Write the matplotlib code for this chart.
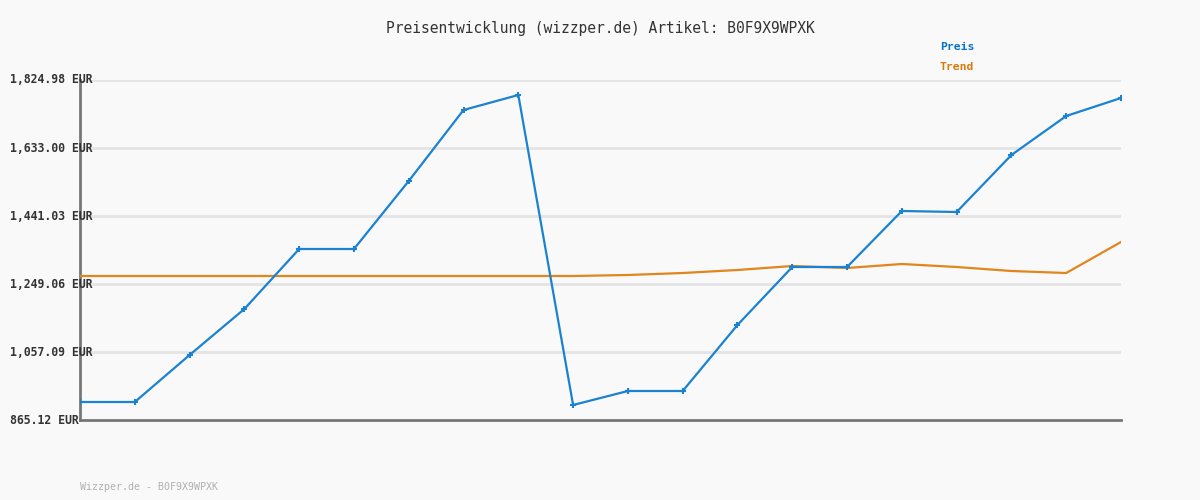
import matplotlib
matplotlib.use("Agg")
import matplotlib.pyplot as plt
import matplotlib.transforms as mtransforms

# price history (EUR)
preis = [915.94, 915.94, 1048.63, 1178.49, 1347.88, 1347.88, 1539.85, 1740.29, 1782.63,
         907.47, 947.00, 947.00, 1133.32, 1297.06, 1297.06, 1455.15, 1452.33, 1613.25,
         1723.35, 1774.16]
trend = [1271.65, 1271.65, 1271.65, 1271.65, 1271.65, 1271.65, 1271.65, 1271.65, 1271.65,
         1271.65, 1274.48, 1280.12, 1288.59, 1299.88, 1294.24, 1305.53, 1297.06, 1285.77,
         1280.12, 1367.64]
y_ticks = [865.12, 1057.09, 1249.06, 1441.03, 1633.00, 1824.98]
tick_labels = ["865.12 EUR", "1,057.09 EUR", "1,249.06 EUR", "1,441.03 EUR", "1,633.00 EUR", "1,824.98 EUR"]

title = "Preisentwicklung (wizzper.de) Artikel: B0F9X9WPXK"
footer = "Wizzper.de - B0F9X9WPXK"

BG = "#f9f9f9"
BLUE = "#1b82d2"
ORANGE = "#e0861c"
MONO = "DejaVu Sans Mono"

fig = plt.figure(figsize=(12, 5), dpi=100, facecolor=BG)
ax = fig.add_axes([80 / 1200, 80 / 500, (1121 - 80) / 1200, 340 / 500])
ax.set_facecolor(BG)

xs = list(range(len(preis)))
ax.set_xlim(0, len(preis) - 1)
ax.set_ylim(y_ticks[0], y_ticks[-1])

for v in y_ticks[1:]:
    ax.axhline(v, color="#e4e4e4", lw=2, zorder=1)

ax.plot(xs, trend, color=ORANGE, lw=1.6, zorder=3)
ax.plot(xs, preis, color=BLUE, lw=1.6, marker="+", ms=4, mew=1.5, zorder=4)

for s in ["top", "right"]:
    ax.spines[s].set_visible(False)
for s in ["left", "bottom"]:
    ax.spines[s].set_color("#777777")
    ax.spines[s].set_linewidth(2)
ax.set_xticks([])
ax.set_yticks([])

# y labels start at the left edge and run over the axis line
trans = mtransforms.blended_transform_factory(fig.transFigure, ax.transData)
for v, lab in zip(y_ticks, tick_labels):
    ax.text(10 / 1200, v, lab, transform=trans, ha="left", va="center",
            family=MONO, fontsize=8.3, fontweight="bold", color="#333333", clip_on=False)

fig.text(0.5, 1 - 28 / 500, title, ha="center", va="center", family=MONO,
         fontsize=10.5, color="#333333")
fig.text(940 / 1200, 1 - 47 / 500, "Preis", ha="left", va="center", family=MONO,
         fontsize=8.2, fontweight="bold", color="#0a74c4")
fig.text(940 / 1200, 1 - 67 / 500, "Trend", ha="left", va="center", family=MONO,
         fontsize=8.2, fontweight="bold", color="#d97a08")
fig.text(80 / 1200, 1 - 487 / 500, footer, ha="left", va="center", family=MONO,
         fontsize=7.2, color="#b0b0b0")

fig.savefig("out.png", dpi=100, facecolor=BG)
